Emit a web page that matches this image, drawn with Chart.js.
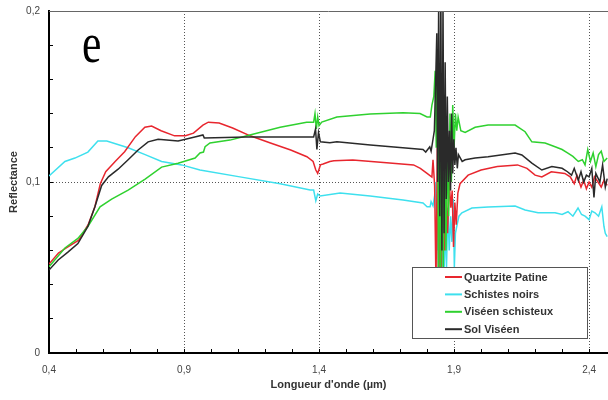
<!DOCTYPE html>
<html>
<head>
<meta charset="utf-8">
<script src="https://cdn.jsdelivr.net/npm/chart.js@4/dist/chart.umd.min.js"></script>
<style>
  html, body { margin: 0; padding: 0; background: #fff; }
  #c { display: block; }
</style>
</head>
<body>
<canvas id="c" width="608" height="400"></canvas>
<script>
// ---- data: [wavelength (µm), reflectance] ----
const seriesLabels = ["Quartzite Patine", "Schistes noirs", "Viséen schisteux", "Sol Viséen"];

const quartzite = [
  [0.40,0.052],[0.435,0.0585],[0.47,0.062],[0.51,0.066],[0.545,0.075],[0.57,0.0855],[0.59,0.099],[0.61,0.106],
  [0.645,0.112],[0.68,0.1177],[0.72,0.1265],[0.755,0.132],[0.78,0.1327],[0.815,0.130],[0.865,0.127],[0.905,0.127],
  [0.935,0.1286],[0.97,0.1333],[0.99,0.135],[1.03,0.1345],[1.08,0.1316],[1.145,0.127],[1.22,0.1228],[1.295,0.1187],
  [1.355,0.1148],[1.378,0.112],[1.388,0.107],[1.395,0.105],[1.405,0.11],[1.415,0.1105],[1.44,0.112],[1.455,0.1124],
  [1.525,0.1129],[1.65,0.1113],[1.75,0.11],[1.775,0.108],[1.80,0.105],[1.818,0.1029],[1.822,0.113],[1.828,0.098],
  [1.833,0.04],[1.838,0.12],[1.843,0.03],[1.848,0.11],[1.853,0.05],[1.858,0.1],[1.864,0.06],[1.87,0.095],
  [1.876,0.07],[1.882,0.1],[1.888,0.085],[1.893,0.095],[1.898,0.062],[1.903,0.088],[1.908,0.075],[1.914,0.0935],
  [1.922,0.099],[1.952,0.104],[2.0,0.107],[2.06,0.109],[2.135,0.110],[2.17,0.108],[2.2,0.104],[2.225,0.103],
  [2.26,0.106],[2.31,0.105],[2.33,0.103],[2.345,0.099],[2.355,0.104],[2.37,0.097],[2.38,0.101],[2.39,0.096],
  [2.4,0.1],[2.41,0.097],[2.42,0.103],[2.433,0.1],[2.445,0.097],[2.455,0.101],[2.467,0.098]
];

const schistesNoirs = [
  [0.40,0.1035],[0.459,0.112],[0.496,0.114],[0.544,0.1175],[0.581,0.124],[0.614,0.124],[0.693,0.120],[0.756,0.116],
  [0.817,0.112],[0.891,0.110],[0.959,0.107],[1.107,0.103],[1.256,0.099],[1.367,0.0953],[1.38,0.0953],[1.388,0.089],
  [1.395,0.093],[1.404,0.0918],[1.478,0.0936],[1.589,0.0918],[1.711,0.0895],[1.785,0.0877],[1.80,0.0855],[1.811,0.0855],
  [1.815,0.0885],[1.822,0.086],[1.828,0.092],[1.832,0.1],[1.836,0.06],[1.84,0.09],[1.844,0.02],[1.848,0.08],
  [1.852,0.035],[1.857,0.07],[1.862,0.04],[1.867,0.075],[1.872,0.05],[1.877,0.085],[1.882,0.06],[1.887,0.08],
  [1.892,0.065],[1.897,0.09],[1.901,0.05],[1.905,0.07],[1.91,0.074],[1.918,0.08],[1.929,0.082],[1.966,0.0848],
  [2.026,0.0854],[2.126,0.086],[2.163,0.0836],[2.211,0.082],[2.274,0.082],[2.30,0.081],[2.322,0.0826],[2.34,0.08],
  [2.359,0.0848],[2.372,0.081],[2.385,0.080],[2.40,0.078],[2.41,0.083],[2.422,0.082],[2.435,0.08],[2.447,0.0855],
  [2.455,0.074],[2.46,0.07],[2.467,0.068]
];

const viseenSchisteux = [
  [0.40,0.0505],[0.459,0.0614],[0.507,0.067],[0.544,0.074],[0.589,0.0855],[0.632,0.090],[0.693,0.0953],[0.756,0.1017],
  [0.817,0.1087],[0.878,0.111],[0.941,0.114],[0.959,0.117],[0.972,0.1175],[0.978,0.1206],[0.996,0.1228],[1.07,0.1245],
  [1.144,0.1275],[1.256,0.132],[1.354,0.135],[1.38,0.135],[1.385,0.14],[1.39,0.131],[1.395,0.138],[1.4,0.133],
  [1.41,0.135],[1.466,0.138],[1.589,0.1398],[1.711,0.1405],[1.774,0.140],[1.80,0.138],[1.812,0.138],[1.818,0.145],
  [1.825,0.15],[1.83,0.165],[1.834,0.12],[1.838,0.175],[1.842,0.05],[1.846,0.16],[1.85,0.03],[1.855,0.15],
  [1.86,0.05],[1.865,0.13],[1.87,0.06],[1.875,0.12],[1.88,0.08],[1.885,0.14],[1.89,0.1],[1.895,0.145],
  [1.9,0.12],[1.905,0.14],[1.91,0.13],[1.915,0.138],[1.925,0.13],[1.941,0.129],[1.978,0.132],[2.026,0.1333],
  [2.126,0.1333],[2.163,0.1294],[2.188,0.1235],[2.237,0.1228],[2.274,0.1206],[2.30,0.119],[2.32,0.117],[2.34,0.115],
  [2.36,0.112],[2.375,0.113],[2.385,0.11],[2.395,0.119],[2.405,0.112],[2.415,0.117],[2.425,0.109],[2.435,0.116],
  [2.445,0.118],[2.455,0.112],[2.467,0.114]
];

const solViseen = [
  [0.40,0.0485],[0.434,0.0544],[0.47,0.059],[0.507,0.064],[0.544,0.074],[0.57,0.0855],[0.595,0.098],[0.62,0.103],
  [0.656,0.1075],[0.693,0.113],[0.73,0.1187],[0.767,0.1235],[0.804,0.125],[0.878,0.124],[0.94,0.1263],[0.97,0.1275],
  [0.975,0.1258],[1.13,0.1263],[1.355,0.1263],[1.38,0.1263],[1.387,0.131],[1.392,0.119],[1.398,0.129],[1.405,0.1235],
  [1.44,0.123],[1.466,0.1235],[1.59,0.1216],[1.71,0.120],[1.785,0.119],[1.795,0.1175],[1.81,0.1206],[1.815,0.118],
  [1.822,0.125],[1.827,0.13],[1.832,0.16],[1.836,0.187],[1.839,0.10],[1.843,0.205],[1.847,0.08],[1.851,0.21],
  [1.855,0.06],[1.859,0.205],[1.863,0.07],[1.867,0.17],[1.871,0.09],[1.875,0.15],[1.879,0.1],[1.883,0.13],
  [1.887,0.095],[1.891,0.14],[1.895,0.105],[1.899,0.125],[1.903,0.11],[1.907,0.12],[1.912,0.108],[1.916,0.116],
  [1.93,0.112],[1.941,0.113],[1.978,0.114],[2.026,0.1148],[2.126,0.117],[2.151,0.1158],[2.188,0.111],[2.225,0.107],
  [2.262,0.109],[2.30,0.108],[2.32,0.106],[2.335,0.104],[2.345,0.108],[2.36,0.101],[2.37,0.106],[2.38,0.1],
  [2.39,0.104],[2.4,0.103],[2.41,0.108],[2.418,0.091],[2.425,0.105],[2.44,0.1],[2.45,0.11],[2.46,0.097],[2.467,0.102]
];

const xLabelTicks = [0.4, 0.9, 1.4, 1.9, 2.4];
const yLabelTicks = [0, 0.1, 0.2];
const xGridTicks = [0.9, 1.4, 1.9, 2.4];
const yGridTicks = [0.1];
const panelLetter = "e";

// ---- styling ----
const colors = ["#e8262e", "#3ee0ee", "#2fd12f", "#2a2a2a"];
const drawOrder = [3, 4, 2, 1];
const r2 = v => Math.round(v * 1000) / 1000;
const fmt = v => String(r2(v)).replace('.', ',');
const inList = (list, v) => list.some(t => Math.abs(t - v) < 1e-6);

const toXY = arr => arr.map(([x, y]) => ({x, y}));
const allSeries = [quartzite, schistesNoirs, viseenSchisteux, solViseen];

const datasets = allSeries.map((s, i) => ({
  label: seriesLabels[i],
  data: toXY(s),
  borderColor: colors[i],
  backgroundColor: colors[i],
  borderWidth: 1.5,
  pointRadius: 0,
  tension: 0,
  order: drawOrder[i]
}));

const decorPlugin = {
  id: 'decor',
  afterDatasetsDraw(chart) {
    const {ctx, chartArea: a} = chart;
    ctx.save();
    // top frame line
    ctx.strokeStyle = '#666';
    ctx.lineWidth = 1;
    ctx.beginPath();
    ctx.moveTo(a.left, a.top + 0.5);
    ctx.lineTo(a.right, a.top + 0.5);
    ctx.stroke();

    // panel letter
    ctx.fillStyle = '#000';
    ctx.font = '56px "Liberation Serif", "Times New Roman", serif';
    ctx.textBaseline = 'alphabetic';
    ctx.translate(82, 62);
    ctx.scale(0.78, 1);
    ctx.fillText(panelLetter, 0, 0);
    ctx.restore();

    // legend box
    ctx.save();
    const bx = 412.5, by = 267.5, bw = 175, bh = 71;
    ctx.fillStyle = '#fff';
    ctx.fillRect(bx, by, bw, bh);
    ctx.strokeStyle = '#555';
    ctx.lineWidth = 1;
    ctx.strokeRect(bx, by, bw, bh);
    ctx.font = 'bold 11px "Liberation Sans", Arial, sans-serif';
    ctx.textBaseline = 'middle';
    ctx.textAlign = 'left';
    chart.data.datasets.forEach((ds, i) => {
      const y = 277 + i * 17.4;
      ctx.strokeStyle = ds.borderColor;
      ctx.lineWidth = 2;
      ctx.beginPath();
      ctx.moveTo(445, y);
      ctx.lineTo(462, y);
      ctx.stroke();
      ctx.fillStyle = '#333';
      ctx.fillText(ds.label, 464, y + 0.5);
    });
    ctx.restore();
  }
};

new Chart(document.getElementById('c'), {
  type: 'line',
  data: { datasets },
  plugins: [decorPlugin],
  options: {
    responsive: false,
    animation: false,
    layout: { padding: { top: 11, right: 0, left: 0, bottom: 0 } },
    plugins: { legend: { display: false }, tooltip: { enabled: false } },
    scales: {
      x: {
        type: 'linear',
        min: 0.4,
        max: 2.47,
        afterFit(s) { s.height = 47; s.paddingLeft = 0; s.paddingRight = 0; },
        ticks: {
          stepSize: 0.1,
          includeBounds: false,
          autoSkip: false,
          maxRotation: 0,
          maxTicksLimit: 100,
          padding: 15,
          color: '#444',
          font: { family: '"Liberation Sans", Arial, sans-serif', size: 10 },
          callback: v => inList(xLabelTicks, v) ? fmt(v) : ''
        },
        grid: {
          drawTicks: true,
          tickLength: -4,
          tickColor: '#000',
          tickWidth: 1,
          lineWidth: 1,
          color: c => (c.tick && inList(xGridTicks, c.tick.value)) ? '#555' : 'rgba(0,0,0,0)'
        },
        border: { display: true, color: '#000', width: 2, dash: [1, 2] },
        title: {
          display: true,
          text: "Longueur d'onde (µm)",
          color: '#333',
          font: { family: '"Liberation Sans", Arial, sans-serif', size: 11, weight: 'bold' },
          padding: { top: 0, bottom: 8 }
        }
      },
      y: {
        type: 'linear',
        min: 0,
        max: 0.2,
        afterFit(s) { s.width = 49; s.paddingTop = 0; s.paddingBottom = 0; },
        ticks: {
          stepSize: 0.02,
          autoSkip: false,
          maxTicksLimit: 100,
          padding: 13,
          color: '#444',
          font: { family: '"Liberation Sans", Arial, sans-serif', size: 10 },
          callback: v => inList(yLabelTicks, v) ? fmt(v) : ''
        },
        grid: {
          drawTicks: true,
          tickLength: -4,
          tickColor: '#000',
          tickWidth: 1,
          lineWidth: 1,
          color: c => (c.tick && inList(yGridTicks, c.tick.value)) ? '#555' : 'rgba(0,0,0,0)'
        },
        border: { display: true, color: '#000', width: 2, dash: [1, 2] },
        title: {
          display: true,
          text: 'Reflectance',
          color: '#333',
          font: { family: '"Liberation Sans", Arial, sans-serif', size: 11, weight: 'bold' },
          padding: { top: 7, bottom: 0 }
        }
      }
    }
  }
});
</script>
</body>
</html>
